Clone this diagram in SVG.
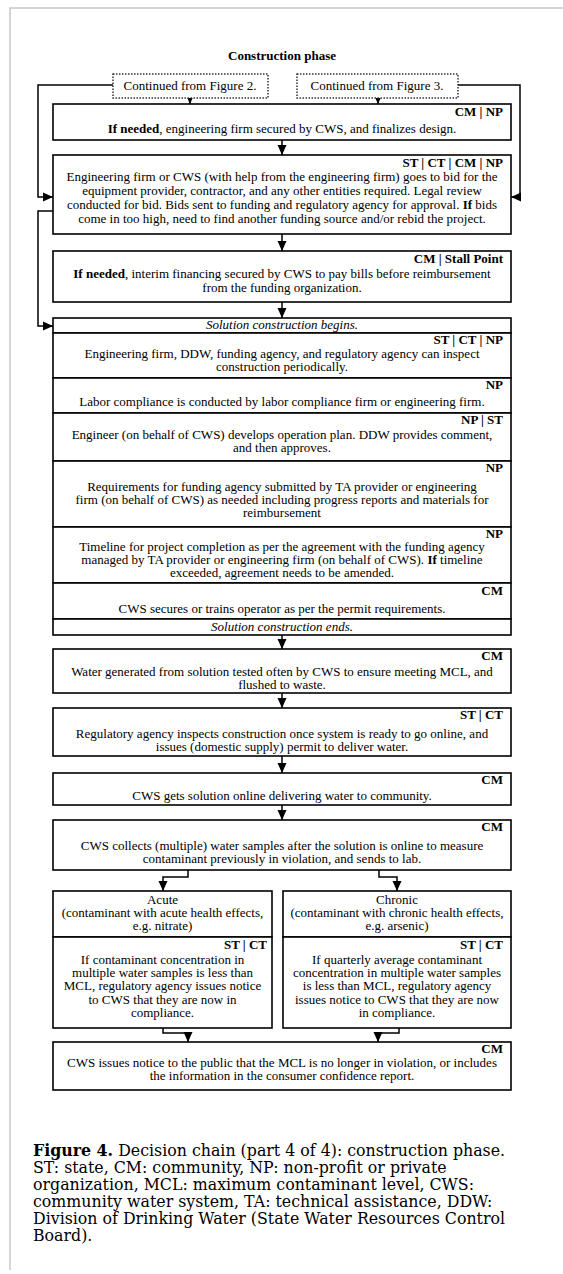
<svg xmlns="http://www.w3.org/2000/svg" width="563" height="1274" viewBox="0 0 563 1274">
<defs>
<marker id="ah" markerUnits="userSpaceOnUse" markerWidth="10" markerHeight="10" refX="10" refY="5" orient="auto"><path d="M0,0.5 L10,5 L0,9.5 z" fill="#000"/></marker>
</defs>
<style>
.box{fill:#fff;stroke:#000;stroke-width:1.6}
.dot{fill:#fff;stroke:#333;stroke-width:1.5;stroke-dasharray:1.5 1.5}
.t{font-family:"Liberation Serif","Times New Roman",serif;font-size:13px;fill:#000;text-anchor:middle}
.lb{font-family:"Liberation Serif","Times New Roman",serif;font-size:13px;font-weight:bold;fill:#000;text-anchor:end}
.it{font-style:italic}
.b{font-weight:bold}
.cn{fill:none;stroke:#000;stroke-width:1.5}
.cap{font-family:"DejaVu Serif",serif;font-size:15.8px;fill:#000}
.frame{fill:none;stroke:#c8c8c8;stroke-width:1.5}
</style>
<rect width="563" height="1274" fill="#fff"/>
<path class="frame" d="M10,1270 V8 H563"/>

<g id="title"><text class="t b" x="282" y="60">Construction phase</text></g>

<g id="connectors">
<path class="cn" d="M113,85 H38 V197 H53" marker-end="url(#ah)"/>
<path class="cn" d="M458,85 H520 V197 H511" marker-end="url(#ah)"/>
<path class="cn" d="M190,98 V104" marker-end="url(#ah)"/>
<path class="cn" d="M378,98 V104" marker-end="url(#ah)"/>
<path class="cn" d="M282,140 V155" marker-end="url(#ah)"/>
<path class="cn" d="M282,234 V251" marker-end="url(#ah)"/>
<path class="cn" d="M53,211 H38 V326 H53" marker-end="url(#ah)"/>
<path class="cn" d="M282,302 V318" marker-end="url(#ah)"/>
<path class="cn" d="M282,635 V649" marker-end="url(#ah)"/>
<path class="cn" d="M282,693 V708" marker-end="url(#ah)"/>
<path class="cn" d="M282,756 V773" marker-end="url(#ah)"/>
<path class="cn" d="M282,805 V820" marker-end="url(#ah)"/>
<path class="cn" d="M188,870 V877 H163 V891" marker-end="url(#ah)"/>
<path class="cn" d="M379,870 V877 H397 V891" marker-end="url(#ah)"/>
<path class="cn" d="M163,1028 V1033 H188 V1042" marker-end="url(#ah)"/>
<path class="cn" d="M399,1028 V1033 H378 V1042" marker-end="url(#ah)"/>
</g>

<g id="from-fig2"><rect class="dot" x="113" y="74" width="155" height="24"/><text class="t" x="190" y="90">Continued from Figure 2.</text></g>
<g id="from-fig3"><rect class="dot" x="297" y="74" width="161" height="24"/><text class="t" x="377" y="90">Continued from Figure 3.</text></g>

<g id="n1"><rect class="box" x="53" y="104" width="458" height="36"/>
<text class="lb" x="503" y="116">CM | NP</text>
<text class="t" x="282" y="133"><tspan class="b">If needed</tspan>, engineering firm secured by CWS, and finalizes design.</text></g>

<g id="n2"><rect class="box" x="53" y="155" width="458" height="79"/>
<text class="lb" x="503" y="167">ST | CT | CM | NP</text>
<text class="t" x="282" y="181">Engineering firm or CWS (with help from the engineering firm) goes to bid for the</text>
<text class="t" x="282" y="195">equipment provider, contractor, and any other entities required. Legal review</text>
<text class="t" x="282" y="209">conducted for bid. Bids sent to funding and regulatory agency for approval. <tspan class="b">If</tspan> bids</text>
<text class="t" x="282" y="223">come in too high, need to find another funding source and/or rebid the project.</text></g>

<g id="n3"><rect class="box" x="53" y="251" width="458" height="51"/>
<text class="lb" x="503" y="263">CM | Stall Point</text>
<text class="t" x="282" y="278"><tspan class="b">If needed</tspan>, interim financing secured by CWS to pay bills before reimbursement</text>
<text class="t" x="282" y="292">from the funding organization.</text></g>

<g id="s0"><rect class="box" x="53" y="318" width="458" height="15"/>
<text class="t it" x="282" y="329">Solution construction begins.</text></g>

<g id="s1"><rect class="box" x="53" y="333" width="458" height="45"/>
<text class="lb" x="503" y="344">ST | CT | NP</text>
<text class="t" x="282" y="358">Engineering firm, DDW, funding agency, and regulatory agency can inspect</text>
<text class="t" x="282" y="371">construction periodically.</text></g>

<g id="s2"><rect class="box" x="53" y="378" width="458" height="35"/>
<text class="lb" x="503" y="389">NP</text>
<text class="t" x="282" y="406">Labor compliance is conducted by labor compliance firm or engineering firm.</text></g>

<g id="s3"><rect class="box" x="53" y="413" width="458" height="48"/>
<text class="lb" x="503" y="424">NP | ST</text>
<text class="t" x="282" y="439">Engineer (on behalf of CWS) develops operation plan. DDW provides comment,</text>
<text class="t" x="282" y="452">and then approves.</text></g>

<g id="s4"><rect class="box" x="53" y="461" width="458" height="66"/>
<text class="lb" x="503" y="472">NP</text>
<text class="t" x="282" y="491">Requirements for funding agency submitted by TA provider or engineering</text>
<text class="t" x="282" y="504">firm (on behalf of CWS) as needed including progress reports and materials for</text>
<text class="t" x="282" y="517">reimbursement</text></g>

<g id="s5"><rect class="box" x="53" y="527" width="458" height="56"/>
<text class="lb" x="503" y="538">NP</text>
<text class="t" x="282" y="551">Timeline for project completion as per the agreement with the funding agency</text>
<text class="t" x="282" y="564">managed by TA provider or engineering firm (on behalf of CWS). <tspan class="b">If</tspan> timeline</text>
<text class="t" x="282" y="577">exceeded, agreement needs to be amended.</text></g>

<g id="s6"><rect class="box" x="53" y="583" width="458" height="36"/>
<text class="lb" x="503" y="595">CM</text>
<text class="t" x="282" y="613">CWS secures or trains operator as per the permit requirements.</text></g>

<g id="s7"><rect class="box" x="53" y="619" width="458" height="16"/>
<text class="t it" x="282" y="631">Solution construction ends.</text></g>

<g id="n4"><rect class="box" x="53" y="649" width="458" height="44"/>
<text class="lb" x="503" y="660">CM</text>
<text class="t" x="282" y="676">Water generated from solution tested often by CWS to ensure meeting MCL, and</text>
<text class="t" x="282" y="689">flushed to waste.</text></g>

<g id="n5"><rect class="box" x="53" y="708" width="458" height="48"/>
<text class="lb" x="503" y="719">ST | CT</text>
<text class="t" x="282" y="738">Regulatory agency inspects construction once system is ready to go online, and</text>
<text class="t" x="282" y="751">issues (domestic supply) permit to deliver water.</text></g>

<g id="n6"><rect class="box" x="53" y="773" width="458" height="32"/>
<text class="lb" x="503" y="784">CM</text>
<text class="t" x="282" y="800">CWS gets solution online delivering water to community.</text></g>

<g id="n7"><rect class="box" x="53" y="820" width="458" height="50"/>
<text class="lb" x="503" y="831">CM</text>
<text class="t" x="282" y="850">CWS collects (multiple) water samples after the solution is online to measure</text>
<text class="t" x="282" y="863">contaminant previously in violation, and sends to lab.</text></g>

<g id="acute"><rect class="box" x="53" y="891" width="219" height="46"/>
<text class="t" x="162.5" y="904">Acute</text>
<text class="t" x="162.5" y="917">(contaminant with acute health effects,</text>
<text class="t" x="162.5" y="930">e.g. nitrate)</text></g>

<g id="acute-compliance"><rect class="box" x="53" y="937" width="219" height="91"/>
<text class="lb" x="267" y="949">ST | CT</text>
<text class="t" x="162.5" y="964">If contaminant concentration in</text>
<text class="t" x="162.5" y="977">multiple water samples is less than</text>
<text class="t" x="162.5" y="990">MCL, regulatory agency issues notice</text>
<text class="t" x="162.5" y="1004">to CWS that they are now in</text>
<text class="t" x="162.5" y="1017">compliance.</text></g>

<g id="chronic"><rect class="box" x="283" y="891" width="228" height="46"/>
<text class="t" x="397" y="904">Chronic</text>
<text class="t" x="397" y="917">(contaminant with chronic health effects,</text>
<text class="t" x="397" y="930">e.g. arsenic)</text></g>

<g id="chronic-compliance"><rect class="box" x="283" y="937" width="228" height="91"/>
<text class="lb" x="503" y="949">ST | CT</text>
<text class="t" x="397" y="964">If quarterly average contaminant</text>
<text class="t" x="397" y="977">concentration in multiple water samples</text>
<text class="t" x="397" y="990">is less than MCL, regulatory agency</text>
<text class="t" x="397" y="1004">issues notice to CWS that they are now</text>
<text class="t" x="397" y="1017">in compliance.</text></g>

<g id="n8"><rect class="box" x="53" y="1042" width="458" height="48"/>
<text class="lb" x="503" y="1053">CM</text>
<text class="t" x="282" y="1067">CWS issues notice to the public that the MCL is no longer in violation, or includes</text>
<text class="t" x="282" y="1080">the information in the consumer confidence report.</text></g>

<g id="caption">
<text class="cap" x="33" y="1156"><tspan font-weight="bold">Figure 4.</tspan> Decision chain (part 4 of 4): construction phase.</text>
<text class="cap" x="33" y="1173">ST: state, CM: community, NP: non-profit or private</text>
<text class="cap" x="33" y="1190">organization, MCL: maximum contaminant level, CWS:</text>
<text class="cap" x="33" y="1207">community water system, TA: technical assistance, DDW:</text>
<text class="cap" x="33" y="1224">Division of Drinking Water (State Water Resources Control</text>
<text class="cap" x="33" y="1241">Board).</text>
</g>
</svg>
